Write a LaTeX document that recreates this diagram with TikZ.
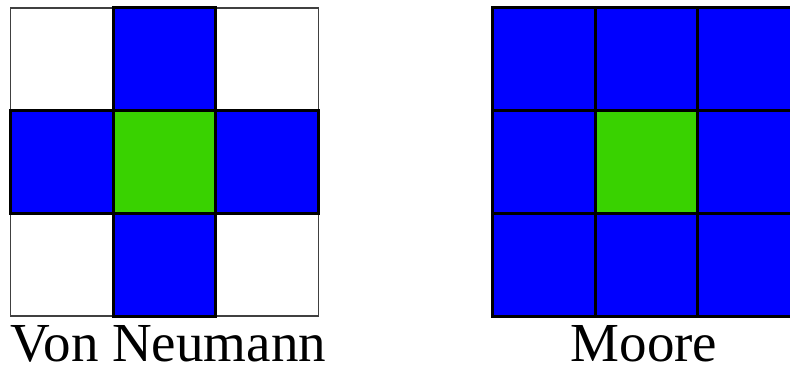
\documentclass[tikz,border=0pt]{standalone}
\usepackage{fontspec}
\setmainfont{Liberation Serif}
\definecolor{cblue}{RGB}{0,0,255}
\definecolor{cgreen}{RGB}{57,210,0}
\tikzset{
  emptycell/.style={fill=white, draw=black!75, line width=1.3pt},
  bluecell/.style={fill=cblue, draw=black, line width=3pt},
  greencell/.style={fill=cgreen, draw=black, line width=3pt},
  caption/.style={font=\fontsize{55}{60}\selectfont, anchor=base, inner sep=0pt, text depth=0pt}
}
\begin{document}
\begin{tikzpicture}[x=1pt,y=-1pt]
\useasboundingbox (0,0) rectangle (790,371);
\clip (0,0) rectangle (790,371);
\fill[white] (0,0) rectangle (790,371);
\def\cs{102.7}
% Von Neumann grid
\foreach \c/\r in {0/0,2/0,0/2,2/2}
  \draw[emptycell] ({10.5+\c*\cs},{8+\r*\cs}) rectangle ++(\cs,\cs);
\foreach \c/\r in {1/0,0/1,2/1,1/2}
  \draw[bluecell] ({10.5+\c*\cs},{8+\r*\cs}) rectangle ++(\cs,\cs);
\draw[greencell] ({10.5+\cs},{8+\cs}) rectangle ++(\cs,\cs);
% Moore grid
\foreach \c/\r in {0/0,1/0,2/0,0/1,2/1,0/2,1/2,2/2}
  \draw[bluecell] ({492.5+\c*\cs},{8+\r*\cs}) rectangle ++(\cs,\cs);
\draw[greencell] ({492.5+\cs},{8+\cs}) rectangle ++(\cs,\cs);
% captions
\node[caption] (vn) at (168.5,362) {Von Neumann};
\node[caption] (mo) at (644,362) {Moore};
\end{tikzpicture}
\end{document}
